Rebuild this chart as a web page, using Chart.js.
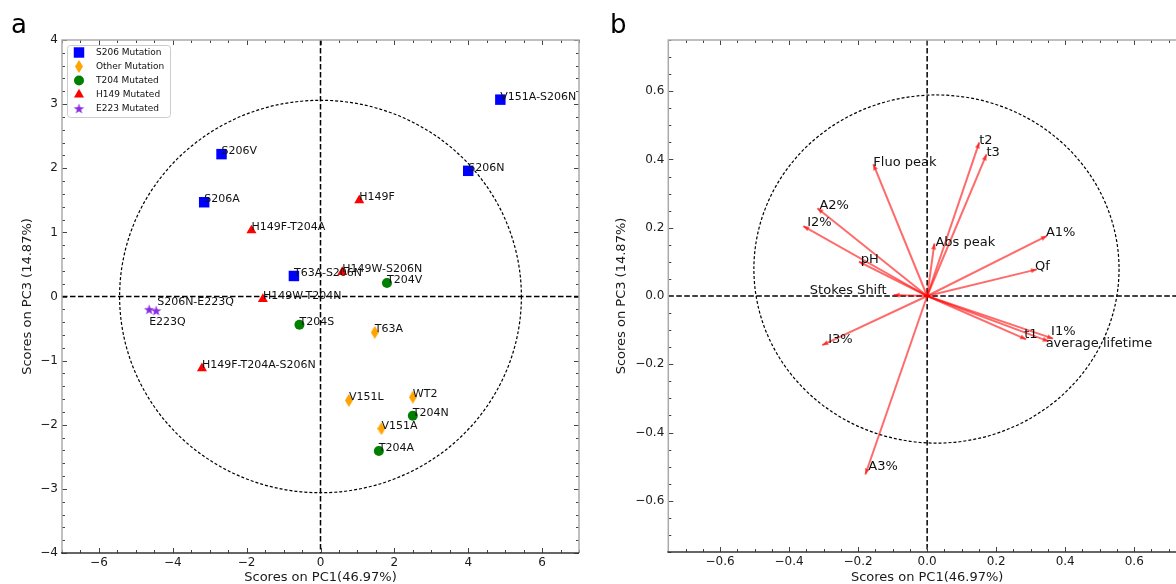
<!DOCTYPE html>
<html>
<head>
<meta charset="utf-8" />
<title>PCA scores and loadings</title>
<script src="https://cdn.jsdelivr.net/npm/chart.js@4"></script>
<style>
  html, body { margin: 0; padding: 0; background: #fff; overflow: hidden; width: 1176px; height: 584px; }
  canvas { position: absolute; top: 0; }
  #scores { left: 0; }
  #loadings { left: 600px; }
</style>
</head>
<body>
<canvas id="scores" width="600" height="584"></canvas>
<canvas id="loadings" width="600" height="584"></canvas>
<script>
// ---- panel a: sample scores on PC1 / PC3 ----
const s206Names = ['S206V', 'S206A', 'T63A-S206N', 'S206N', 'V151A-S206N'];
const s206PC1 = [-2.68, -3.15, -0.72, 4.0, 4.87];
const s206PC3 = [2.22, 1.47, 0.32, 1.96, 3.07];

const otherNames = ['T63A', 'V151L', 'WT2', 'V151A'];
const otherPC1 = [1.47, 0.77, 2.5, 1.65];
const otherPC3 = [-0.56, -1.62, -1.57, -2.06];

const t204Names = ['T204V', 'T204S', 'T204N', 'T204A'];
const t204PC1 = [1.8, -0.57, 2.5, 1.58];
const t204PC3 = [0.21, -0.44, -1.86, -2.41];

const h149Names = ['H149F', 'H149F-T204A', 'H149W-S206N', 'H149W-T204N', 'H149F-T204A-S206N'];
const h149PC1 = [1.05, -1.87, 0.59, -1.56, -3.21];
const h149PC3 = [1.5, 1.03, 0.38, -0.04, -1.12];

const e223Names = ['E223Q', 'S206N-E223Q'];
const e223PC1 = [-4.64, -4.45];
const e223PC3 = [-0.2, -0.22];

const scoreXTicks = [-6, -4, -2, 0, 2, 4, 6];
const scoreYTicks = [-4, -3, -2, -1, 0, 1, 2, 3, 4];

// ---- panel b: loadings ----
const varNames = ['Fluo peak', 'A2%', 'I2%', 'pH', 'Stokes Shift', 'Abs peak', 't2', 't3',
                  'A1%', 'Qf', 't1', 'I1%', 'average lifetime', 'I3%', 'A3%'];
const loadPC1 = [-0.156, -0.318, -0.359, -0.198, -0.097, 0.021, 0.151, 0.172,
                 0.347, 0.318, 0.287, 0.365, 0.352, -0.304, -0.179];
const loadPC3 = [0.386, 0.257, 0.205, 0.101, 0.003, 0.154, 0.45, 0.415,
                 0.176, 0.078, -0.127, -0.125, -0.133, -0.144, -0.523];
const loadTicks = [-0.6, -0.4, -0.2, 0, 0.2, 0.4, 0.6];

const FONT = "'DejaVu Sans', sans-serif";
const ARROW = 'rgba(255,0,0,0.58)';

// little offsets so labels sit like in the original figure
const scoreNudge = { 'E223Q': [0, 16], 'S206N-E223Q': [1, -6] };
const loadNudge = {
  'Fluo peak': [0, -2], 'A2%': [2, -3], 'I2%': [4, -3], 'pH': [2, -2], 'Stokes Shift': [-7, -4, 'right'],
  'Abs peak': [1, -1], 't2': [0, -2], 't3': [0, -2], 'A1%': [-1, -3], 'Qf': [-2, -3], 't1': [-2, -5],
  'I1%': [-2, -7], 'average lifetime': [-3, 2], 'I3%': [6, -6], 'A3%': [3, -8]
};

function fmtTick(v, digits) {
  return (v < -1e-9 ? '\u2212' : '') + Math.abs(v).toFixed(digits);
}

function axis(min, max, ticks, digits, title, pos, size, pad) {
  return {
    type: 'linear', position: pos, min: min, max: max,
    afterBuildTicks: s => { s.ticks = ticks.map(v => ({ value: v })); },
    afterFit: s => { if (pos === 'bottom') s.height = size; else s.width = size; },
    grid: { display: false, drawTicks: false },
    border: { display: false },
    ticks: {
      autoSkip: false, maxRotation: 0, padding: pad, color: '#1a1a1a',
      font: { family: FONT, size: 12 },
      callback: v => fmtTick(v, digits)
    },
    title: { display: true, text: title, color: '#1a1a1a', padding: 0, font: { family: FONT, size: 13, lineHeight: 1 } }
  };
}

// offscreen marker images for star and thin diamond
function starImg(color, r) {
  const c = document.createElement('canvas');
  const s = Math.ceil(r * 2 + 2);
  c.width = c.height = s;
  const g = c.getContext('2d');
  g.fillStyle = color;
  g.beginPath();
  for (let i = 0; i < 10; i++) {
    const rr = i % 2 ? r * 0.4 : r;
    const a = -Math.PI / 2 + i * Math.PI / 5;
    g.lineTo(s / 2 + rr * Math.cos(a), s / 2 + 0.6 + rr * Math.sin(a));
  }
  g.closePath();
  g.fill();
  return c;
}
function diamondImg(color, w, h) {
  const c = document.createElement('canvas');
  c.width = w; c.height = h;
  const g = c.getContext('2d');
  g.fillStyle = color;
  g.beginPath();
  g.moveTo(w / 2, 0); g.lineTo(w, h / 2); g.lineTo(w / 2, h); g.lineTo(0, h / 2);
  g.closePath();
  g.fill();
  return c;
}

// matplotlib-like frame, inward ticks, zero lines, dashed ellipse, panel letter
const mplAxes = {
  id: 'mplAxes',
  beforeDatasetsDraw(chart, args, o) {
    const { ctx, chartArea: a, scales: { x, y } } = chart;
    ctx.save();
    ctx.beginPath(); ctx.rect(a.left, a.top, a.right - a.left, a.bottom - a.top); ctx.clip();
    const cx = x.getPixelForValue(o.ecx), cy = y.getPixelForValue(o.ecy);
    const rx = Math.abs(x.getPixelForValue(o.ecx + o.erx) - cx);
    const ry = Math.abs(y.getPixelForValue(o.ecy + o.ery) - cy);
    ctx.strokeStyle = '#000';
    ctx.lineWidth = 1.2;
    ctx.setLineDash([3, 2]);
    ctx.beginPath(); ctx.ellipse(cx, cy, rx, ry, 0, 0, Math.PI * 2); ctx.stroke();
    const x0 = x.getPixelForValue(0), y0 = y.getPixelForValue(0);
    ctx.lineWidth = 1.5;
    ctx.setLineDash([5.5, 2.5]);
    ctx.beginPath();
    ctx.moveTo(a.left, y0); ctx.lineTo(a.right, y0);
    ctx.moveTo(x0, a.top); ctx.lineTo(x0, a.bottom);
    ctx.stroke();
    ctx.restore();
  },
  afterDraw(chart, args, o) {
    const { ctx, chartArea: a, scales: { x, y } } = chart;
    ctx.save();
    ctx.strokeStyle = '#444';
    ctx.lineWidth = 1;
    const tick = (scale, step, len) => {
      const vals = [];
      for (let k = Math.ceil(scale.min / step - 1e-6); k * step <= scale.max + 1e-9; k++) vals.push(k * step);
      ctx.beginPath();
      vals.forEach(v => {
        const p = Math.round(scale.getPixelForValue(v)) + 0.5;
        if (scale === x) {
          ctx.moveTo(p, a.bottom); ctx.lineTo(p, a.bottom - len);
          ctx.moveTo(p, a.top); ctx.lineTo(p, a.top + len);
        } else {
          ctx.moveTo(a.left, p); ctx.lineTo(a.left + len, p);
          ctx.moveTo(a.right, p); ctx.lineTo(a.right - len, p);
        }
      });
      ctx.stroke();
    };
    tick(x, o.minorX, 3);
    tick(y, o.minorY, 3);
    tick(x, o.majorX, 5);
    tick(y, o.majorY, 5);
    // spines
    ctx.lineWidth = 1.5;
    ctx.strokeStyle = '#aaa';
    ctx.beginPath();
    ctx.moveTo(a.left, a.bottom); ctx.lineTo(a.left, a.top); ctx.lineTo(a.right, a.top); ctx.lineTo(a.right, a.bottom);
    ctx.stroke();
    ctx.strokeStyle = '#333';
    ctx.beginPath(); ctx.moveTo(a.left - 1, a.bottom); ctx.lineTo(a.right, a.bottom); ctx.stroke();
    // panel letter
    ctx.fillStyle = '#000';
    ctx.font = '26px ' + FONT;
    ctx.textBaseline = 'alphabetic';
    ctx.textAlign = 'left';
    ctx.fillText(o.letter, o.letterX, 33);
    ctx.restore();
  }
};

// point labels + legend for the scores panel
const scoreDecor = {
  id: 'scoreDecor',
  afterDatasetsDraw(chart) {
    const ctx = chart.ctx;
    ctx.save();
    ctx.fillStyle = '#111';
    ctx.font = '11px ' + FONT;
    ctx.textBaseline = 'alphabetic';
    chart.data.datasets.forEach((ds, i) => {
      chart.getDatasetMeta(i).data.forEach((el, j) => {
        const name = ds.data[j].name;
        const n = scoreNudge[name] || [0, 0];
        ctx.fillText(name, el.x + n[0], el.y + n[1]);
      });
    });
    // legend box
    const bx = 67.5, by = 45.5, bw = 103, bh = 72;
    ctx.fillStyle = 'rgba(255,255,255,0.85)';
    ctx.strokeStyle = '#ccc';
    ctx.lineWidth = 1;
    ctx.beginPath();
    ctx.roundRect(bx, by, bw, bh, 3);
    ctx.fill(); ctx.stroke();
    ctx.font = '9px ' + FONT;
    ctx.textBaseline = 'middle';
    chart.data.datasets.forEach((ds, i) => {
      const yy = 52.5 + i * 14;
      ctx.fillStyle = ds.backgroundColor;
      ctx.strokeStyle = ds.backgroundColor;
      Chart.helpers.drawPoint(ctx, { pointStyle: ds.pointStyle, radius: ds.pointRadius, rotation: 0, borderWidth: 0 }, 79, yy);
      ctx.fillStyle = '#111';
      ctx.fillText(ds.label, 96, yy + 0.5);
    });
    ctx.restore();
  }
};

// arrow heads + variable names for the loadings panel
const loadDecor = {
  id: 'loadDecor',
  afterDatasetsDraw(chart) {
    const ctx = chart.ctx;
    ctx.save();
    ctx.fillStyle = ARROW;
    chart.data.datasets.forEach((ds, i) => {
      const pts = chart.getDatasetMeta(i).data;
      const p0 = pts[0], p1 = pts[1];
      const ang = Math.atan2(p1.y - p0.y, p1.x - p0.x);
      const L = 6, W = 2.6;
      const bxp = p1.x - L * Math.cos(ang), byp = p1.y - L * Math.sin(ang);
      ctx.beginPath();
      ctx.moveTo(p1.x, p1.y);
      ctx.lineTo(bxp - W * Math.sin(ang), byp + W * Math.cos(ang));
      ctx.lineTo(bxp + W * Math.sin(ang), byp - W * Math.cos(ang));
      ctx.closePath();
      ctx.fill();
    });
    ctx.fillStyle = '#111';
    ctx.font = '13px ' + FONT;
    ctx.textBaseline = 'middle';
    chart.data.datasets.forEach((ds, i) => {
      const p1 = chart.getDatasetMeta(i).data[1];
      const n = loadNudge[ds.label] || [0, -2];
      ctx.textAlign = n[2] || 'left';
      ctx.fillText(ds.label, p1.x + n[0], p1.y + n[1]);
    });
    ctx.restore();
  }
};

function pts(names, xs, ys) {
  return names.map((n, i) => ({ x: xs[i], y: ys[i], name: n }));
}

const scoreSets = [
  { label: 'S206 Mutation', data: pts(s206Names, s206PC1, s206PC3), backgroundColor: '#0000ff', pointStyle: 'rect', pointRadius: 7.4 },
  { label: 'Other Mutation', data: pts(otherNames, otherPC1, otherPC3), backgroundColor: '#ffa500', pointStyle: diamondImg('#ffa500', 8, 13), pointRadius: 6 },
  { label: 'T204 Mutated', data: pts(t204Names, t204PC1, t204PC3), backgroundColor: '#008000', pointStyle: 'circle', pointRadius: 5 },
  { label: 'H149 Mutated', data: pts(h149Names, h149PC1, h149PC3), backgroundColor: '#ff0000', pointStyle: 'triangle', pointRadius: 5.8 },
  { label: 'E223 Mutated', data: pts(e223Names, e223PC1, e223PC3), backgroundColor: '#8a2be2', pointStyle: starImg('#8a2be2', 5.5), pointRadius: 5 }
];
scoreSets.forEach(d => { d.borderWidth = 0; d.borderColor = d.backgroundColor; });

new Chart(document.getElementById('scores'), {
  type: 'scatter',
  data: { datasets: scoreSets },
  options: {
    responsive: false, animation: false, events: [],
    layout: { padding: { left: 21.5, top: 40, right: 21, bottom: 0 } },
    scales: {
      x: axis(-7, 7, scoreXTicks, 0, 'Scores on PC1(46.97%)', 'bottom', 31, 3),
      y: axis(-4, 4, scoreYTicks, 0, 'Scores on PC3 (14.87%)', 'left', 40.5, 4)
    },
    plugins: {
      legend: { display: false }, tooltip: { enabled: false },
      mplAxes: { ecx: 0, ecy: 0, erx: 5.44, ery: 3.06, minorX: 0.5, minorY: 0.2, majorX: 2, majorY: 1, letter: 'a', letterX: 11 }
    }
  },
  plugins: [mplAxes, scoreDecor]
});

new Chart(document.getElementById('loadings'), {
  type: 'scatter',
  data: {
    datasets: varNames.map((n, i) => ({
      label: n,
      data: [{ x: 0, y: 0 }, { x: loadPC1[i], y: loadPC3[i] }],
      showLine: true, borderColor: ARROW, borderWidth: 2, pointRadius: 0, fill: false
    }))
  },
  options: {
    responsive: false, animation: false, events: [],
    layout: { padding: { left: 15, top: 40, right: 14, bottom: 0 } },
    scales: {
      x: axis(-0.75, 0.75, loadTicks, 1, 'Scores on PC1(46.97%)', 'bottom', 32, 3),
      y: axis(-0.75, 0.75, loadTicks, 1, 'Scores on PC3 (14.87%)', 'left', 53.3, 4)
    },
    plugins: {
      legend: { display: false }, tooltip: { enabled: false },
      mplAxes: { ecx: 0.027, ecy: 0.079, erx: 0.529, ery: 0.51, minorX: 0.05, minorY: 0.05, majorX: 0.2, majorY: 0.2, letter: 'b', letterX: 10 }
    }
  },
  plugins: [mplAxes, loadDecor]
});
</script>
</body>
</html>
